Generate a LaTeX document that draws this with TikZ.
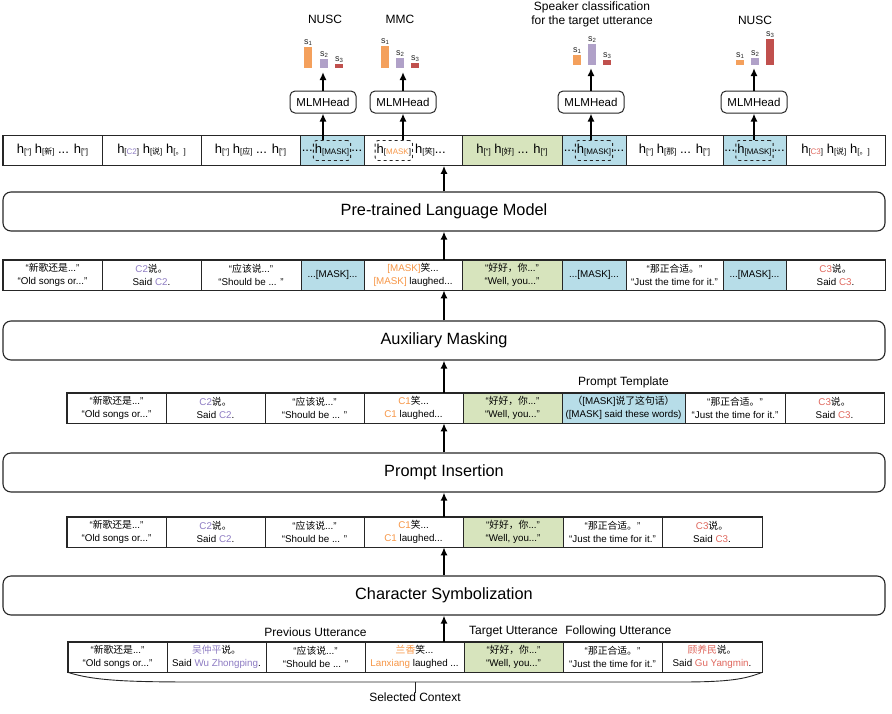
\documentclass[tikz,border=0pt]{standalone}
\usepackage{fontspec}
\setmainfont{Liberation Sans}
\newfontfamily\zhfont{Noto Sans CJK SC}
\usepackage{xcolor}
\usepackage{tikz}
\usetikzlibrary{positioning}
\usetikzlibrary{arrows.meta}

\definecolor{MaskBlue}{HTML}{B7DDE8}
\definecolor{TargetGreen}{HTML}{D7E4BD}
\definecolor{SpkOne}{HTML}{F79646}
\definecolor{SpkTwo}{HTML}{8E7CC3}
\definecolor{SpkThree}{HTML}{E0685E}
\definecolor{BarOne}{HTML}{F4A05C}
\definecolor{BarTwo}{HTML}{B0A1C8}
\definecolor{BarThree}{HTML}{C0504D}
\definecolor{LineGray}{HTML}{262626}

\newcommand{\zh}[1]{{\zhfont #1}}
\newcommand{\hid}[1]{h\raisebox{-1pt}{\fontsize{8}{9}\selectfont[#1]}}
\newcommand{\spk}[2]{\textcolor{#1}{#2}}
\newcommand{\score}[1]{s\raisebox{-1.2pt}{\fontsize{6}{6}\selectfont #1}}

\tikzset{
	cell/.style={draw=LineGray, line width=0.6pt, minimum height=30pt, inner sep=1pt, align=center, font=\fontsize{9.8}{13.5}\selectfont},
	hidtext/.style={font=\fontsize{13}{15}\selectfont},
	hidcell/.style={cell, hidtext},
	rowframe/.style={draw=LineGray, line width=1.3pt},
	layerbox/.style={draw=LineGray, line width=1.1pt, rounded corners=8pt, minimum width=882pt, minimum height=39pt, font=\fontsize{16.3}{18}\selectfont},
	headbox/.style={draw=LineGray, line width=1pt, rounded corners=5pt, minimum width=66pt, minimum height=22pt, inner sep=0pt, font=\fontsize{11.5}{13}\selectfont},
	maskbox/.style={draw=LineGray, dashed, line width=0.9pt, rounded corners=3pt, inner sep=1.5pt, minimum height=20pt, hidtext},
	flow/.style={line width=1.6pt, -{Latex[length=8pt,width=7pt]}},
	legendtext/.style={font=\fontsize{12}{14}\selectfont, inner sep=0pt, align=center},
	barlabel/.style={font=\fontsize{9}{10}\selectfont, text=LineGray, inner sep=0pt, anchor=south},
}

\begin{document}
\begin{tikzpicture}[x=1pt, y=-1pt]
	\useasboundingbox (0,0) rectangle (892,713);

	% ---------------------
	% Selected context (bottom row)
	\foreach \xa/\xb/\shade/\txt [count=\i] in {
		68/167/white/{“\zh{新歌还是}...”\\“Old songs or...”},
		167/266/white/{\spk{SpkTwo}{\zh{吴仲平}}\zh{说。}\\Said \spk{SpkTwo}{Wu Zhongping}.},
		266/365/white/{“\zh{应该说}...”\\“Should be ... ”},
		365/464/white/{\spk{SpkOne}{\zh{兰香}}\zh{笑}...\\\spk{SpkOne}{Lanxiang} laughed ...},
		464/563/TargetGreen/{“\zh{好好，你}...”\\“Well, you...”},
		563/662/white/{“\zh{那正合适。}”\\“Just the time for it.”},
		662/762/white/{\spk{SpkThree}{\zh{顾养民}}\zh{说。}\\Said \spk{SpkThree}{Gu Yangmin}.}}
	{
		\node[cell, fill=\shade, minimum width={\xb-\xa}] (Ctx\i) at ({(\xa+\xb)/2},657) {\txt};
	}
	\draw[rowframe] (Ctx1.north west) rectangle (Ctx7.south east);

	\node[legendtext, above=5pt of Ctx3] (PrevUtt) {Previous Utterance};
	\node[legendtext, above=5pt of Ctx5] (TargetUtt) {Target Utterance};
	\node[legendtext, right=7pt of TargetUtt] (FollowUtt) {Following Utterance};

	% brace under the context
	\coordinate (BraceTip) at (415,682);
	\draw[LineGray, line width=0.9pt] (Ctx1.south west) .. controls (95,681) and (130,682) .. (200,682)
		-- (680,682) .. controls (730,682) and (745,679) .. (Ctx7.south east);
	\node[legendtext, anchor=north] (SelCtx) at (415,693) {Selected Context};
	\draw[LineGray, line width=0.9pt] (BraceTip) -- (SelCtx.north);

	% ---------------------
	% Character symbolization
	\node[layerbox] (CharSym) at (444,595.5) {Character Symbolization};

	\foreach \xa/\xb/\shade/\txt [count=\i] in {
		67/166/white/{“\zh{新歌还是}...”\\“Old songs or...”},
		166/265/white/{\spk{SpkTwo}{C2}\zh{说。}\\Said \spk{SpkTwo}{C2}.},
		265/364/white/{“\zh{应该说}...”\\“Should be ... ”},
		364/463/white/{\spk{SpkOne}{C1}\zh{笑}...\\\spk{SpkOne}{C1} laughed...},
		463/563/TargetGreen/{“\zh{好好，你}...”\\“Well, you...”},
		563/662/white/{“\zh{那正合适。}”\\“Just the time for it.”},
		662/762/white/{\spk{SpkThree}{C3}\zh{说。}\\Said \spk{SpkThree}{C3}.}}
	{
		\node[cell, fill=\shade, minimum width={\xb-\xa}] (Chr\i) at ({(\xa+\xb)/2},532) {\txt};
	}
	\draw[rowframe] (Chr1.north west) rectangle (Chr7.south east);

	% ---------------------
	% Prompt insertion
	\node[layerbox] (PromptIns) at (444,472.5) {Prompt Insertion};

	\foreach \xa/\xb/\shade/\txt [count=\i] in {
		67/166/white/{“\zh{新歌还是}...”\\“Old songs or...”},
		166/265/white/{\spk{SpkTwo}{C2}\zh{说。}\\Said \spk{SpkTwo}{C2}.},
		265/364/white/{“\zh{应该说}...”\\“Should be ... ”},
		364/463/white/{\spk{SpkOne}{C1}\zh{笑}...\\\spk{SpkOne}{C1} laughed...},
		463/562/TargetGreen/{“\zh{好好，你}...”\\“Well, you...”},
		562/685/MaskBlue/{\zh{（}[MASK]\zh{说了这句话）}\\([MASK] said these words)},
		685/785/white/{“\zh{那正合适。}”\\“Just the time for it.”},
		785/884/white/{\spk{SpkThree}{C3}\zh{说。}\\Said \spk{SpkThree}{C3}.}}
	{
		\node[cell, fill=\shade, minimum width={\xb-\xa}] (Prm\i) at ({(\xa+\xb)/2},408) {\txt};
	}
	\draw[rowframe] (Prm1.north west) rectangle (Prm8.south east);
	\node[legendtext, above=5pt of Prm6] (PromptTpl) {Prompt Template};

	% ---------------------
	% Auxiliary masking
	\node[layerbox] (AuxMask) at (444,340.5) {Auxiliary Masking};

	\foreach \xa/\xb/\shade/\txt [count=\i] in {
		3/102/white/{“\zh{新歌还是}...”\\“Old songs or...”},
		102/201/white/{\spk{SpkTwo}{C2}\zh{说。}\\Said \spk{SpkTwo}{C2}.},
		201/301/white/{“\zh{应该说}...”\\“Should be ... ”},
		301/364/MaskBlue/{...[MASK]...},
		364/462/white/{\spk{SpkOne}{[MASK]}\zh{笑}...\\\spk{SpkOne}{[MASK]} laughed...},
		462/562/TargetGreen/{“\zh{好好，你}...”\\“Well, you...”},
		562/626/MaskBlue/{...[MASK]...},
		626/723/white/{“\zh{那正合适。}”\\“Just the time for it.”},
		723/786/MaskBlue/{...[MASK]...},
		786/885/white/{\spk{SpkThree}{C3}\zh{说。}\\Said \spk{SpkThree}{C3}.}}
	{
		\node[cell, fill=\shade, minimum width={\xb-\xa}] (Msk\i) at ({(\xa+\xb)/2},275) {\txt};
	}
	\draw[rowframe] (Msk1.north west) rectangle (Msk10.south east);

	% ---------------------
	% Language model and hidden states
	\node[layerbox] (PLM) at (444,211.5) {Pre-trained Language Model};

	\foreach \xa/\xb/\shade/\txt [count=\i] in {
		3/102/white/{\hid{“} \hid{\zh{新}} ... \hid{”}},
		102/201/white/{\hid{\spk{SpkTwo}{C2}} \hid{\zh{说}} \hid{\zh{。}}},
		201/300/white/{\hid{“} \hid{\zh{应}} ... \hid{”}},
		300/364/MaskBlue/{},
		364/462/white/{},
		462/562/TargetGreen/{\hid{“} \hid{\zh{好}} ... \hid{”}},
		562/626/MaskBlue/{},
		626/723/white/{\hid{“} \hid{\zh{那}} ... \hid{”}},
		723/786/MaskBlue/{},
		786/885/white/{\hid{\spk{SpkThree}{C3}} \hid{\zh{说}} \hid{\zh{。}}}}
	{
		\node[hidcell, fill=\shade, minimum width={\xb-\xa}] (Hid\i) at ({(\xa+\xb)/2},150.5) {\txt};
	}
	\draw[rowframe] (Hid1.north west) rectangle (Hid10.south east);

	% masked positions
	\node[maskbox] (HidMaskA) at (Hid4) {\hid{MASK}};
	\node[hidtext, anchor=east, inner sep=0pt] (DotsAL) at (HidMaskA.west) {...};
	\node[hidtext, anchor=west, inner sep=0pt] (DotsAR) at (HidMaskA.east) {...};

	\path (Hid5.west) +(11,0) coordinate (MaskBStart);
	\node[maskbox, anchor=west] (HidMaskB) at (MaskBStart) {\hid{\spk{SpkOne}{MASK}}};
	\node[hidtext, anchor=west, inner sep=2pt] (HidLaugh) at (HidMaskB.east) {\hid{\zh{笑}}...};

	\node[maskbox] (HidMaskC) at (Hid7) {\hid{MASK}};
	\node[hidtext, anchor=east, inner sep=0pt] (DotsCL) at (HidMaskC.west) {...};
	\node[hidtext, anchor=west, inner sep=0pt] (DotsCR) at (HidMaskC.east) {...};

	\node[maskbox] (HidMaskD) at (Hid9) {\hid{MASK}};
	\node[hidtext, anchor=east, inner sep=0pt] (DotsDL) at (HidMaskD.west) {...};
	\node[hidtext, anchor=west, inner sep=0pt] (DotsDR) at (HidMaskD.east) {...};

	% ---------------------
	% MLM heads
	\node[headbox] (HeadA) at (323,102) {MLMHead};
	\node[headbox] (HeadB) at (403,102) {MLMHead};
	\node[headbox] (HeadC) at (591,102) {MLMHead};
	\node[headbox] (HeadD) at (754,102) {MLMHead};

	\coordinate (ChartA) at (323,72);
	\coordinate (ChartB) at (403,72);
	\coordinate (ChartC) at (591,68);
	\coordinate (ChartD) at (754,68);

	% speaker score bars
	\foreach \xa/\ytop/\ybot/\shade/\k [count=\i] in {
		304/47/68/BarOne/1, 320/59/68/BarTwo/2, 335/64/68/BarThree/3,
		381/46/68/BarOne/1, 396/58/68/BarTwo/2, 411/63/68/BarThree/3,
		573/55/65/BarOne/1, 588/44/65/BarTwo/2, 603/60/65/BarThree/3,
		736/60/65/BarOne/1, 751/58/65/BarTwo/2, 766/39/65/BarThree/3}
	{
		\fill[\shade] (\xa,\ytop) rectangle ({\xa+8},\ybot);
		\node[barlabel] (Bar\i) at ({\xa+4},{\ytop-1.5}) {\score{\k}};
	}

	\node[legendtext] (TaskA) at (325,19) {NUSC};
	\node[legendtext] (TaskB) at (400,19) {MMC};
	\node[legendtext] (TaskC) at (592,14) {Speaker classification\\for the target utterance};
	\node[legendtext] (TaskD) at (755,20) {NUSC};

	% ---------------------
	% Flow arrows
	\draw[flow] (CharSym.south |- Ctx1.north) -- (CharSym.south);
	\draw[flow] (CharSym.north) -- (CharSym.north |- Chr1.south);
	\draw[flow] (PromptIns.south |- Chr1.north) -- (PromptIns.south);
	\draw[flow] (PromptIns.north) -- (PromptIns.north |- Prm1.south);
	\draw[flow] (AuxMask.south |- Prm1.north) -- (AuxMask.south);
	\draw[flow] (AuxMask.north) -- (AuxMask.north |- Msk1.south);
	\draw[flow] (PLM.south |- Msk1.north) -- (PLM.south);
	\draw[flow] (PLM.north) -- (PLM.north |- Hid1.south);

	\draw[flow] (HeadA.south |- HidMaskA.north) -- (HeadA.south);
	\draw[flow] (HeadB.south |- HidMaskB.north) -- (HeadB.south);
	\draw[flow] (HeadC.south |- HidMaskC.north) -- (HeadC.south);
	\draw[flow] (HeadD.south |- HidMaskD.north) -- (HeadD.south);

	\draw[flow] (HeadA.north) -- (ChartA);
	\draw[flow] (HeadB.north) -- (ChartB);
	\draw[flow] (HeadC.north) -- (ChartC);
	\draw[flow] (HeadD.north) -- (ChartD);

\end{tikzpicture}
\end{document}
